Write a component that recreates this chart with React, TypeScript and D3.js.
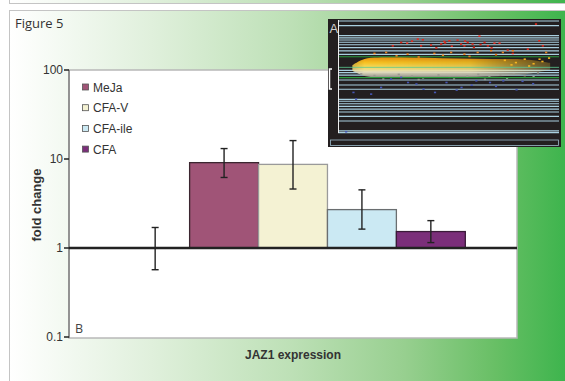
import React from 'react';
import * as d3 from 'd3';

// bar chart data (panel B)
const categories = ['Control', 'MeJa', 'CFA-V', 'CFA-ile', 'CFA'];
const foldChange = [1, 9.1, 8.7, 2.7, 1.53];
const errLow = [0.57, 6.2, 4.6, 1.63, 1.15];
const errHigh = [1.7, 13.1, 16.1, 4.5, 2.03];
const barFill = ['none', '#a05477', '#f4f2d3', '#cbe9f3', '#7b2e7a'];
const barStroke = ['none', '#3b2630', '#9a9a9a', '#6a6e70', '#3a1a38'];
const yTicks = [0.1, 1, 10, 100];
const yTickLabels = ['0.1', '1', '10', '100'];
const legendNames = ['MeJa', 'CFA-V', 'CFA-ile', 'CFA'];

// inset (panel A) - MA plot, values in 0..100 inset units
const gridLevels = [0.9, 5, 13.9, 15.9, 17.7, 19.7, 21.9, 24.5, 27.4, 30.4, 44.5, 46.6, 48.7, 53.1, 57.5, 61.3, 70.2, 71.9, 74.1, 76.4, 78.8, 81.4, 85.2, 89.4, 98.2, 99.7];
const greenLevels = [32.5, 51];
const centerLevel = 41.9;
const cloudX = [6.5, 12, 25, 40, 55, 70, 85, 96];
const cloudTop = [40, 34.5, 33, 33.3, 34, 34.5, 35, 38];
const cloudBottom = [45, 49.5, 50.8, 51, 50.5, 50, 48, 44];
const redX = [89.1, 35.6, 37.9, 28.1, 24.3, 30.8, 41.6, 47.6, 49.9, 53.6, 55.2, 58.2, 60.4, 63.5, 65.8, 67.3, 70.3, 72.6, 76.3, 78.6, 85.4, 90.6, 92.2, 46.2, 56.7, 37.1, 48, 51, 57, 61, 64, 69, 33, 44];
const redY = [2.9, 16.2, 16.8, 19.2, 22.1, 19.8, 21.5, 18.3, 17.7, 17.1, 20.6, 19.2, 20.6, 13.6, 19.2, 22.1, 19.8, 19.8, 26, 28.9, 25.1, 17.7, 22.1, 20.6, 22.1, 22.1, 19.5, 22.5, 18, 23.5, 21, 24, 18, 24];
const orangeX = [16, 21.3, 31, 43.1, 50.7, 56.7, 62.7, 68.8, 74.1, 78.6, 93.7, 90.7, 26, 36, 47, 59, 71, 75, 80, 84, 88, 92, 78, 86, 95];
const orangeY = [28.9, 28, 29.5, 28.9, 28, 29.5, 28, 26.5, 28, 26.5, 28, 34, 31, 32, 30.5, 31.5, 30, 35, 37, 34, 38, 36, 39, 40, 33];
const grayX = [10, 16, 22, 27, 33, 38, 45, 50, 58, 63, 68, 73, 79, 84, 90, 20, 36, 52, 66, 76, 88];
const grayY = [47, 48.5, 49.5, 47.5, 49, 50.5, 48, 50, 49, 47.5, 49.5, 48, 47, 48.5, 46, 51.5, 52, 51.5, 51.8, 50.8, 49.5];
const blueX = [19, 31.2, 38.2, 43.4, 48.6, 55.4, 62.1, 68.3, 74.3, 80.3, 87.8, 6.5, 14.5, 7.7, 3.2, 28.1, 23.5, 53.2, 35, 60, 71, 83];
const blueY = [59, 54.6, 60.5, 63.4, 54.6, 59, 53.1, 54.6, 53.1, 61, 55.7, 63.4, 64.9, 69.3, 98.2, 50.1, 51.6, 61.3, 56, 57, 58, 53.5];

const W = 565;
const H = 381;
const plot = { left: 69, right: 517, top: 70, bottom: 338 };
const inset = { left: 328, right: 561, top: 19, bottom: 147 };

export default function App() {
  const x = d3.scaleBand().domain(categories).range([plot.left, plot.right]).paddingInner(0).paddingOuter(0.75);
  const y = d3.scaleLog().domain([0.1, 100]).range([plot.bottom - 1, plot.top]);
  const bw = x.bandwidth();

  const ix = d3.scaleLinear().domain([0, 100]).range([338, 559]);
  const iy = d3.scaleLinear().domain([0, 100]).range([20, 133]);
  const cloud = d3
    .area<number>()
    .x((d, i) => ix(cloudX[i]))
    .y0((d, i) => iy(cloudBottom[i]))
    .y1((d, i) => iy(cloudTop[i]))
    .curve(d3.curveCatmullRom)(cloudX);

  const sans = 'Liberation Sans, Arial, sans-serif';

  return (
    <svg width={W} height={H} style={{ position: 'absolute', left: 0, top: 0 }} fontFamily={sans}>
      <defs>
        <linearGradient id="bg" x1="0" x2="1" y1="0" y2="0">
          <stop offset="0" stopColor="#ffffff" />
          <stop offset="0.25" stopColor="#e0f0dc" />
          <stop offset="0.5" stopColor="#bde0b6" />
          <stop offset="0.7" stopColor="#97cf8f" />
          <stop offset="0.86" stopColor="#68bf65" />
          <stop offset="1" stopColor="#38b34a" />
        </linearGradient>
        <linearGradient id="cloudFill" x1="0" x2="0" y1="0" y2="1">
          <stop offset="0" stopColor="#e8900e" />
          <stop offset="0.25" stopColor="#f7c020" />
          <stop offset="0.5" stopColor="#f6dc60" />
          <stop offset="0.72" stopColor="#e6e0c0" />
          <stop offset="1" stopColor="#8a8a84" />
        </linearGradient>
        <linearGradient id="cloudFade" x1="0" x2="1" y1="0" y2="0">
          <stop offset="0" stopColor="#fff" stopOpacity="0.6" />
          <stop offset="0.12" stopColor="#fff" stopOpacity="1" />
          <stop offset="0.6" stopColor="#fff" stopOpacity="0.9" />
          <stop offset="1" stopColor="#fff" stopOpacity="0.2" />
        </linearGradient>
        <mask id="fadeMask">
          <rect x={ix(0)} y={iy(0)} width={ix(100) - ix(0)} height={iy(100) - iy(0)} fill="url(#cloudFade)" />
        </mask>
      </defs>

      {/* page frame */}
      <rect x={9.5} y={-10} width={W} height={13.5} fill="url(#bg)" stroke="#c4c4c4" />
      <rect x={9.5} y={10.5} width={W} height={H} fill="url(#bg)" stroke="#c4c4c4" />
      <text x={15} y={28} fontFamily="Open Sans, sans-serif" fontSize={13} fill="#333">
        Figure 5
      </text>

      {/* plot area */}
      <rect x={plot.left} y={plot.top} width={plot.right - plot.left} height={plot.bottom - plot.top} fill="#fff" stroke="#b8b8b8" strokeWidth={1.5} />
      <line x1={plot.left} x2={plot.left} y1={plot.top} y2={plot.bottom} stroke="#808080" strokeWidth={1.5} />
      {yTicks.map((t, i) => (
        <g key={t}>
          <line x1={plot.left - 5} x2={plot.left} y1={y(t)} y2={y(t)} stroke="#222" strokeWidth={1.5} />
          <text x={plot.left - 6} y={y(t) + 4} textAnchor="end" fontSize={12} fill="#333">
            {yTickLabels[i]}
          </text>
        </g>
      ))}

      {/* bars */}
      {categories.map((c, i) =>
        barFill[i] === 'none' ? null : (
          <rect
            key={c}
            x={x(c)!}
            y={y(foldChange[i])}
            width={bw}
            height={y(1) - y(foldChange[i])}
            fill={barFill[i]}
            stroke={barStroke[i]}
            strokeWidth={1.3}
          />
        )
      )}
      <line x1={plot.left} x2={plot.right} y1={y(1)} y2={y(1)} stroke="#222" strokeWidth={2.5} />

      {/* error bars */}
      {categories.map((c, i) => {
        const cx = x(c)! + bw / 2;
        return (
          <g key={c} stroke="#222" strokeWidth={1.4}>
            <line x1={cx} x2={cx} y1={y(errLow[i])} y2={y(errHigh[i])} />
            <line x1={cx - 3.5} x2={cx + 3.5} y1={y(errLow[i])} y2={y(errLow[i])} />
            <line x1={cx - 3.5} x2={cx + 3.5} y1={y(errHigh[i])} y2={y(errHigh[i])} />
          </g>
        );
      })}

      {/* legend */}
      {legendNames.map((n, i) => {
        const ly = 87.5 + i * 20.7;
        return (
          <g key={n}>
            <rect x={82.5} y={ly - 3.5} width={6} height={6} fill={barFill[i + 1]} stroke="#555" strokeWidth={0.8} />
            <text x={93} y={ly + 4} fontSize={12} fill="#333">
              {n}
            </text>
          </g>
        );
      })}

      <text x={75} y={333} fontFamily="Open Sans, sans-serif" fontSize={12.5} fill="#444">
        B
      </text>
      <text transform="translate(41,205) rotate(-90)" textAnchor="middle" fontSize={13} fontWeight="bold" fill="#333">
        fold change
      </text>
      <text x={293} y={359} textAnchor="middle" fontSize={12} fontWeight="bold" fill="#333">
        JAZ1 expression
      </text>

      {/* inset A */}
      <g>
        <rect x={inset.left} y={inset.top} width={inset.right - inset.left} height={inset.bottom - inset.top} fill="#231f20" />
        {gridLevels.map((g) => (
          <line key={g} x1={ix(0)} x2={ix(100)} y1={iy(g)} y2={iy(g)} stroke="#a9cfdf" strokeWidth={1.2} />
        ))}
        <path d={cloud ?? ''} fill="url(#cloudFill)" mask="url(#fadeMask)" />
        {grayX.map((v, i) => (
          <rect key={'g' + i} x={ix(v)} y={iy(grayY[i])} width={2.2} height={1.6} fill="#9a9a90" />
        ))}
        {greenLevels.map((g) => (
          <line key={g} x1={ix(0)} x2={ix(100)} y1={iy(g)} y2={iy(g)} stroke="#2a9a3c" strokeWidth={1.1} />
        ))}
        <line x1={ix(0)} x2={ix(100)} y1={iy(centerLevel)} y2={iy(centerLevel)} stroke="#5cc890" strokeWidth={1} opacity={0.8} />
        {orangeX.map((v, i) => (
          <rect key={'o' + i} x={ix(v)} y={iy(orangeY[i])} width={2.2} height={1.6} fill={orangeY[i] > 32 ? '#f4b420' : '#e8801c'} />
        ))}
        {redX.map((v, i) => (
          <rect key={'r' + i} x={ix(v)} y={iy(redY[i])} width={2.2} height={1.6} fill="#e02a1e" />
        ))}
        {blueX.map((v, i) => (
          <rect key={'b' + i} x={ix(v)} y={iy(blueY[i])} width={2.2} height={1.6} fill="#4656b4" />
        ))}
        <line x1={338.5} x2={338.5} y1={iy(0)} y2={iy(100)} stroke="#eee" strokeWidth={1} />
        <path d="M332,69 h-2.5 v20 h2.5" fill="none" stroke="#fff" strokeWidth={1.5} />
        <rect x={330.5} y={140} width={228} height={5.5} fill="none" stroke="#9fbccc" strokeWidth={0.8} />
        <text x={329.5} y={33} fontSize={13} fill="#d0d0d0">
          A
        </text>
      </g>
    </svg>
  );
}
